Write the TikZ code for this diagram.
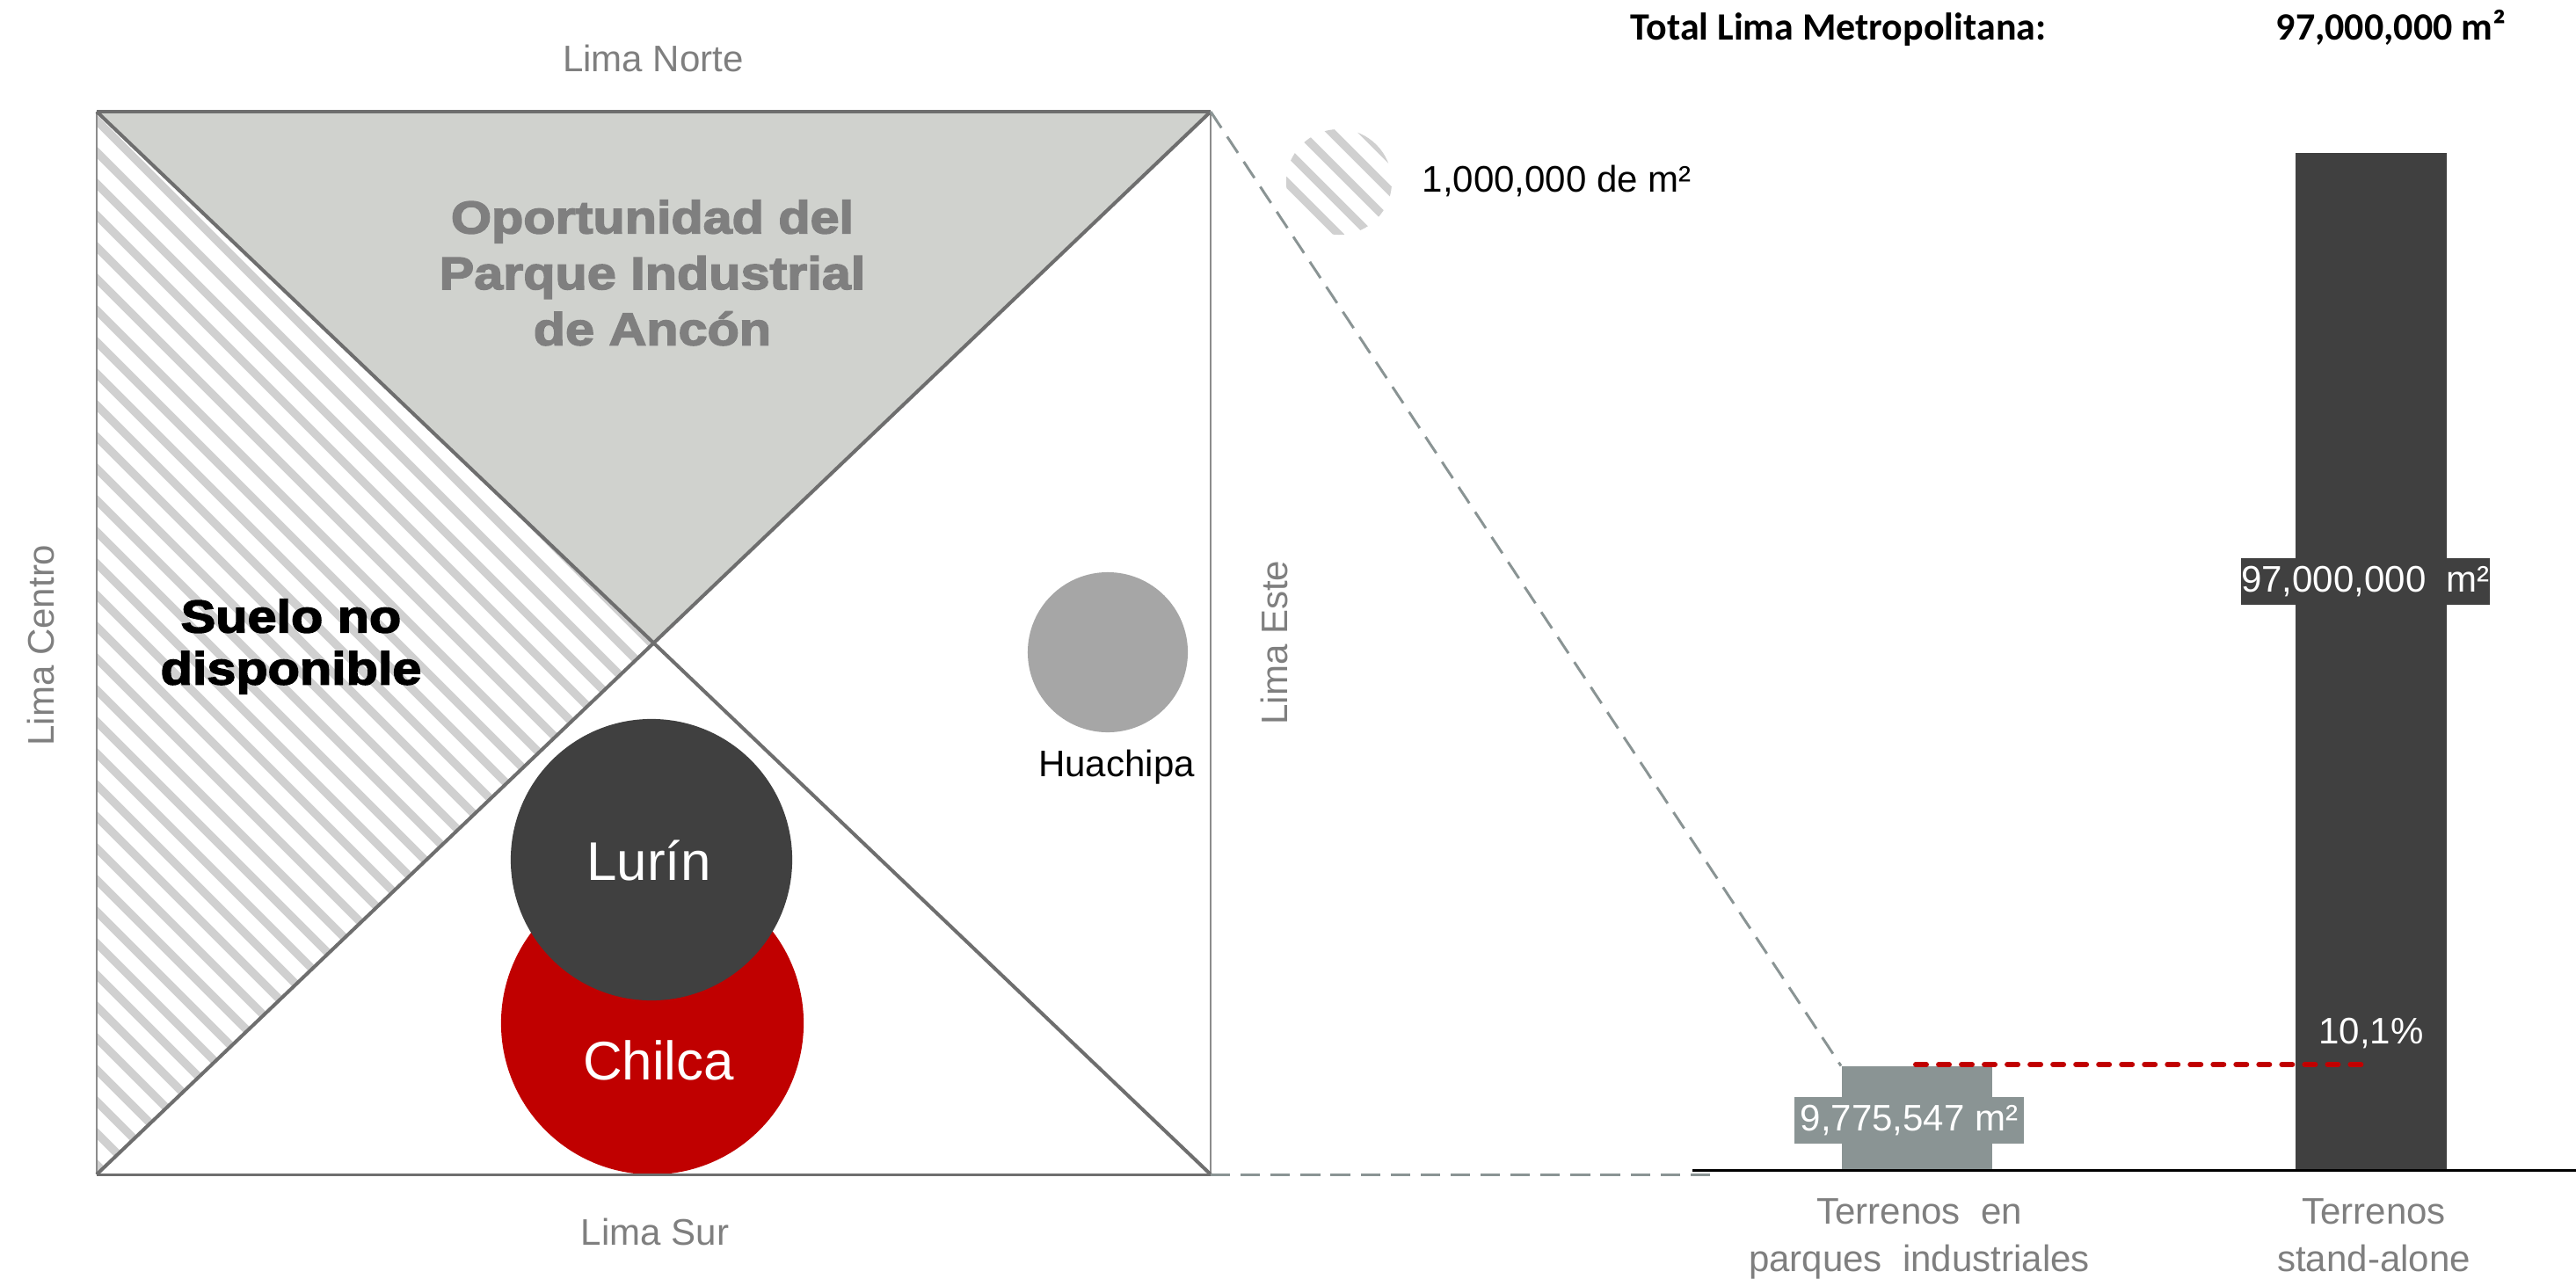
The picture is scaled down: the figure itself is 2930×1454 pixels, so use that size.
\documentclass[tikz,border=0pt]{standalone}
\usepackage{fontspec}
\setmainfont{Liberation Sans}
\newfontfamily\heavyfont{Liberation Sans}[BoldFeatures={FakeBold=3,FakeStretch=1.14}]
\newfontfamily\califont{Carlito}
\newcommand\fsa{\fontsize{11.95pt}{14pt}\selectfont}
\newcommand\fsb{\fontsize{17.6pt}{20pt}\selectfont}
\definecolor{edgegrey}{HTML}{6E6E6E}
\definecolor{thingrey}{HTML}{8C8C8C}
\definecolor{topfill}{HTML}{D0D2CE}
\definecolor{hatchgrey}{HTML}{D0D0D0}
\definecolor{labelgrey}{HTML}{7F7F7F}
\definecolor{darkbar}{HTML}{404040}
\definecolor{parkcol}{HTML}{8A9494}
\definecolor{chilcared}{HTML}{C00000}
\definecolor{huagrey}{HTML}{A6A6A6}
\begin{document}
\begin{tikzpicture}[x=0.01cm,y=-0.01cm,
  lbl/.style={text=labelgrey,font=\fsa,inner sep=0},
  edge/.style={draw=edgegrey,line width=1.14pt},
  thinedge/.style={draw=thingrey,line width=0.43pt},
  hatch/.style={draw=hatchgrey,line width=2.7pt},
  disc/.style={circle,inner sep=0,draw=none},
  barbox/.style={rectangle,inner sep=0,draw=none,anchor=south west},
  valbox/.style={rectangle,inner sep=0,draw=none,text=white,font=\fsa},
  greydash/.style={draw=parkcol,line width=0.85pt,dash pattern=on 6.3pt off 3.4pt},
  reddash/.style={draw=chilcared,line width=1.7pt,line cap=round,dash pattern=on 3.4pt off 4pt},
  heading/.style={anchor=north,align=center,inner sep=0}]
\useasboundingbox (0,0) rectangle (2930,1454);

% square corners and centre
\coordinate (TL) at (110,127);
\coordinate (TR) at (1377,127);
\coordinate (BL) at (110,1336);
\coordinate (BR) at (1377,1336);
\coordinate (C) at (743.5,731.5);

% top triangle
\fill[topfill] (TL) -- (TR) -- (C) -- cycle;
% hatched left triangle
\begin{scope}
  \clip (TL) -- (C) -- (BL) -- cycle;
  \foreach \k in {-22,...,38} \draw[hatch] (100,{127+36*\k}) -- ++(800,800);
\end{scope}

% circles
\node[disc,fill=chilcared,minimum size=3.44cm] (chilca) at (742,1164) {};
\node[disc,fill=darkbar,minimum size=3.2cm] (lurin) at (741,978) {};
\node[disc,fill=huagrey,minimum size=1.82cm] (huachipa) at (1260,742) {};

% square edges and diagonals
\draw[thinedge] (TR) -- (BR);
\draw[thinedge] (TL) -- (BL);
\draw[edge] (TL) -- (BR);
\draw[edge] (TR) -- (BL);
\draw[edge] (TL) -- (TR);
\draw[edge,line width=0.85pt] (BL) -- (BR);

% circle labels
\node[text=white,font=\fsb,inner sep=0] (lurintxt) at (738,979) {Lurín};
\node[text=white,font=\fsb,inner sep=0] (chilcatxt) at (749,1206) {Chilca};
\node[font=\fsa,inner sep=0,anchor=base] (huatxt) at (1270,883) {Huachipa};

% side labels
\node[lbl] (norte) at (743,66) {Lima Norte};
\node[lbl] (sur) at (745,1401) {Lima Sur};
\node[lbl,rotate=90] (centro) at (46,734) {Lima Centro};
\node[lbl,rotate=90] (este) at (1449,731) {Lima Este};

% headings
\node[heading,text=labelgrey,font=\heavyfont\bfseries\fontsize{14.8pt}{18.07pt}\selectfont] (ancon) at (742,227) {Oportunidad del\\Parque Industrial\\de Ancón};
\node[heading,text=black,font=\heavyfont\bfseries\fontsize{14.8pt}{16.8pt}\selectfont] (suelo) at (331,681) {Suelo no\\disponible};

% total header
\node[anchor=base west,inner sep=0,font=\califont\bfseries\fontsize{12.5pt}{14pt}\selectfont] (total) at (1854,45) {Total Lima Metropolitana:};
\node[anchor=base west,inner sep=0,font=\califont\bfseries\fontsize{12.5pt}{14pt}\selectfont] (totalval) at (2588,45) {97,000,000 m²};

% legend
\coordinate (legc) at (1523,207);
\begin{scope}
  \clip (legc) circle[radius=0.6cm];
  \foreach \k in {-6,...,8} \draw[hatch] (1450,{50+36*\k}) -- ++(200,200);
\end{scope}
\node[anchor=base west,inner sep=0,font=\fsa] (legtxt) at (1617,218) {1,000,000 de m²};

% bars
\node[barbox,fill=parkcol,minimum width=1.71cm,minimum height=1.17cm] (parkbar) at (2094,1331) {};
\node[barbox,fill=darkbar,minimum width=1.72cm,minimum height=11.56cm] (standbar) at (2610,1331) {};
\node[valbox,fill=parkcol,minimum width=2.61cm,minimum height=0.53cm] (parkval) at (2171.5,1274.5) {9,775,547 m²};
\node[valbox,fill=darkbar,minimum width=2.81cm,minimum height=0.53cm] (standval) at (2690.5,661.5) {97,000,000\ \ m²};
\node[text=white,font=\fsa,inner sep=0] (pct) at (2697,1175) {10,1\%};

% ratio line
\coordinate (rA) at (2179,1211);
\coordinate (rB) at (2698,1211);
\draw[reddash] (rA) -- (rB);

% axis
\coordinate (axisL) at (1925,1331);
\coordinate (axisR) at (2930,1331);
\draw[black,line width=0.85pt] (axisL) -- (axisR);

% zoom connectors
\draw[greydash] (TR) -- (parkbar.north west);
\coordinate (dashEnd) at (1955,1336);
\draw[greydash] (BR) -- (dashEnd);

% bar labels
\node[lbl,anchor=north,align=center,font=\fontsize{11.95pt}{15.4pt}\selectfont] (parklbl) at (2183,1363) {Terrenos\ \ en\\parques\ \ industriales};
\node[lbl,anchor=north,align=center,font=\fontsize{11.95pt}{15.4pt}\selectfont] (standlbl) at (2700,1363) {Terrenos\\stand-alone};
\end{tikzpicture}
\end{document}
